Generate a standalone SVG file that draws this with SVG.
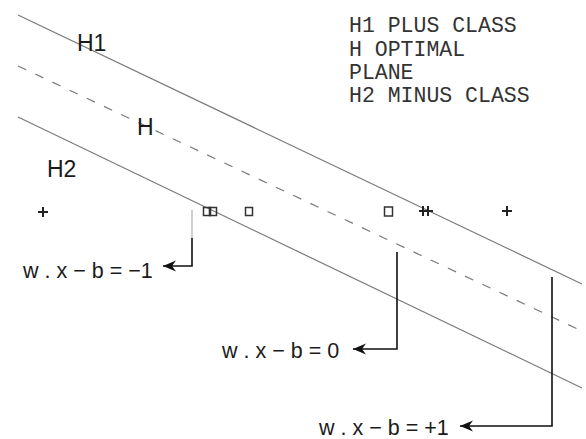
<svg xmlns="http://www.w3.org/2000/svg" width="586" height="439" viewBox="0 0 586 439">
<defs>
<style>
.plane{stroke:#7a7a7a;stroke-width:1.2;fill:none}
.dash{stroke-dasharray:9 10}
.hl{font-family:"Liberation Sans",Arial,sans-serif;font-size:23px;fill:#1a1a1a}
.eq{font-family:"Liberation Sans",Arial,sans-serif;font-size:21.5px;fill:#1a1a1a}
.leg{font-family:"Liberation Mono","Courier New",monospace;font-size:21.5px;fill:#333}
.conn{stroke:#111;stroke-width:1.6;fill:none}
.sq{fill:none;stroke:#333;stroke-width:1.5}
.pl{stroke:#222;stroke-width:2;fill:none}
</style>
<marker id="arr" markerUnits="userSpaceOnUse" markerWidth="16" markerHeight="14" refX="15" refY="7" orient="auto" viewBox="0 0 16 14">
<path d="M15,7 L2,1.5 L6,7 L2,12.5 Z" fill="#111"/>
</marker>
</defs>
<rect width="586" height="439" fill="#fff"/>
<g id="planes">
<line id="H1-line" class="plane" x1="18" y1="15" x2="582" y2="284"/>
<line id="H-line" class="plane dash" x1="18" y1="66" x2="584" y2="332"/>
<line id="H2-line" class="plane" x1="18" y1="117" x2="582" y2="388"/>
</g>
<g id="labels">
<text class="hl" x="77" y="51">H1</text>
<text class="hl" x="137" y="135">H</text>
<text class="hl" x="47" y="177">H2</text>
</g>
<g id="legend">
<text class="leg" x="349" y="32">H1 PLUS CLASS</text>
<text class="leg" x="349" y="55.5">H OPTIMAL</text>
<text class="leg" x="349" y="79">PLANE</text>
<text class="leg" x="349" y="102">H2 MINUS CLASS</text>
</g>
<g id="points">
<path class="pl" d="M38,212 h10 M43,207 v10"/>
<rect class="sq" x="203.5" y="207.5" width="7" height="8"/>
<rect class="sq" x="209.5" y="207.5" width="7" height="8"/>
<rect class="sq" x="245.5" y="207.5" width="7" height="8"/>
<rect class="sq" x="384.5" y="207" width="8" height="9"/>
<path class="pl" d="M419,211 h14 M423,206 v10 M428,206 v10"/>
<path class="pl" d="M502,211 h10 M507,206 v10"/>
</g>
<g id="connectors">
<line x1="192" y1="210" x2="192" y2="238" stroke="#c4c4c4" stroke-width="1.6"/>
<polyline class="conn" points="192,238 192,266 163,266" marker-end="url(#arr)"/>
<polyline class="conn" points="397,252 397,349 353,349" marker-end="url(#arr)"/>
<polyline class="conn" points="552,277 552,426 460,426" marker-end="url(#arr)"/>
</g>
<g id="equations">
<text class="eq" x="23" y="278">w . x − b = −1</text>
<text class="eq" x="222" y="358">w . x − b = 0</text>
<text class="eq" x="319" y="435">w . x − b = +1</text>
</g>
</svg>
